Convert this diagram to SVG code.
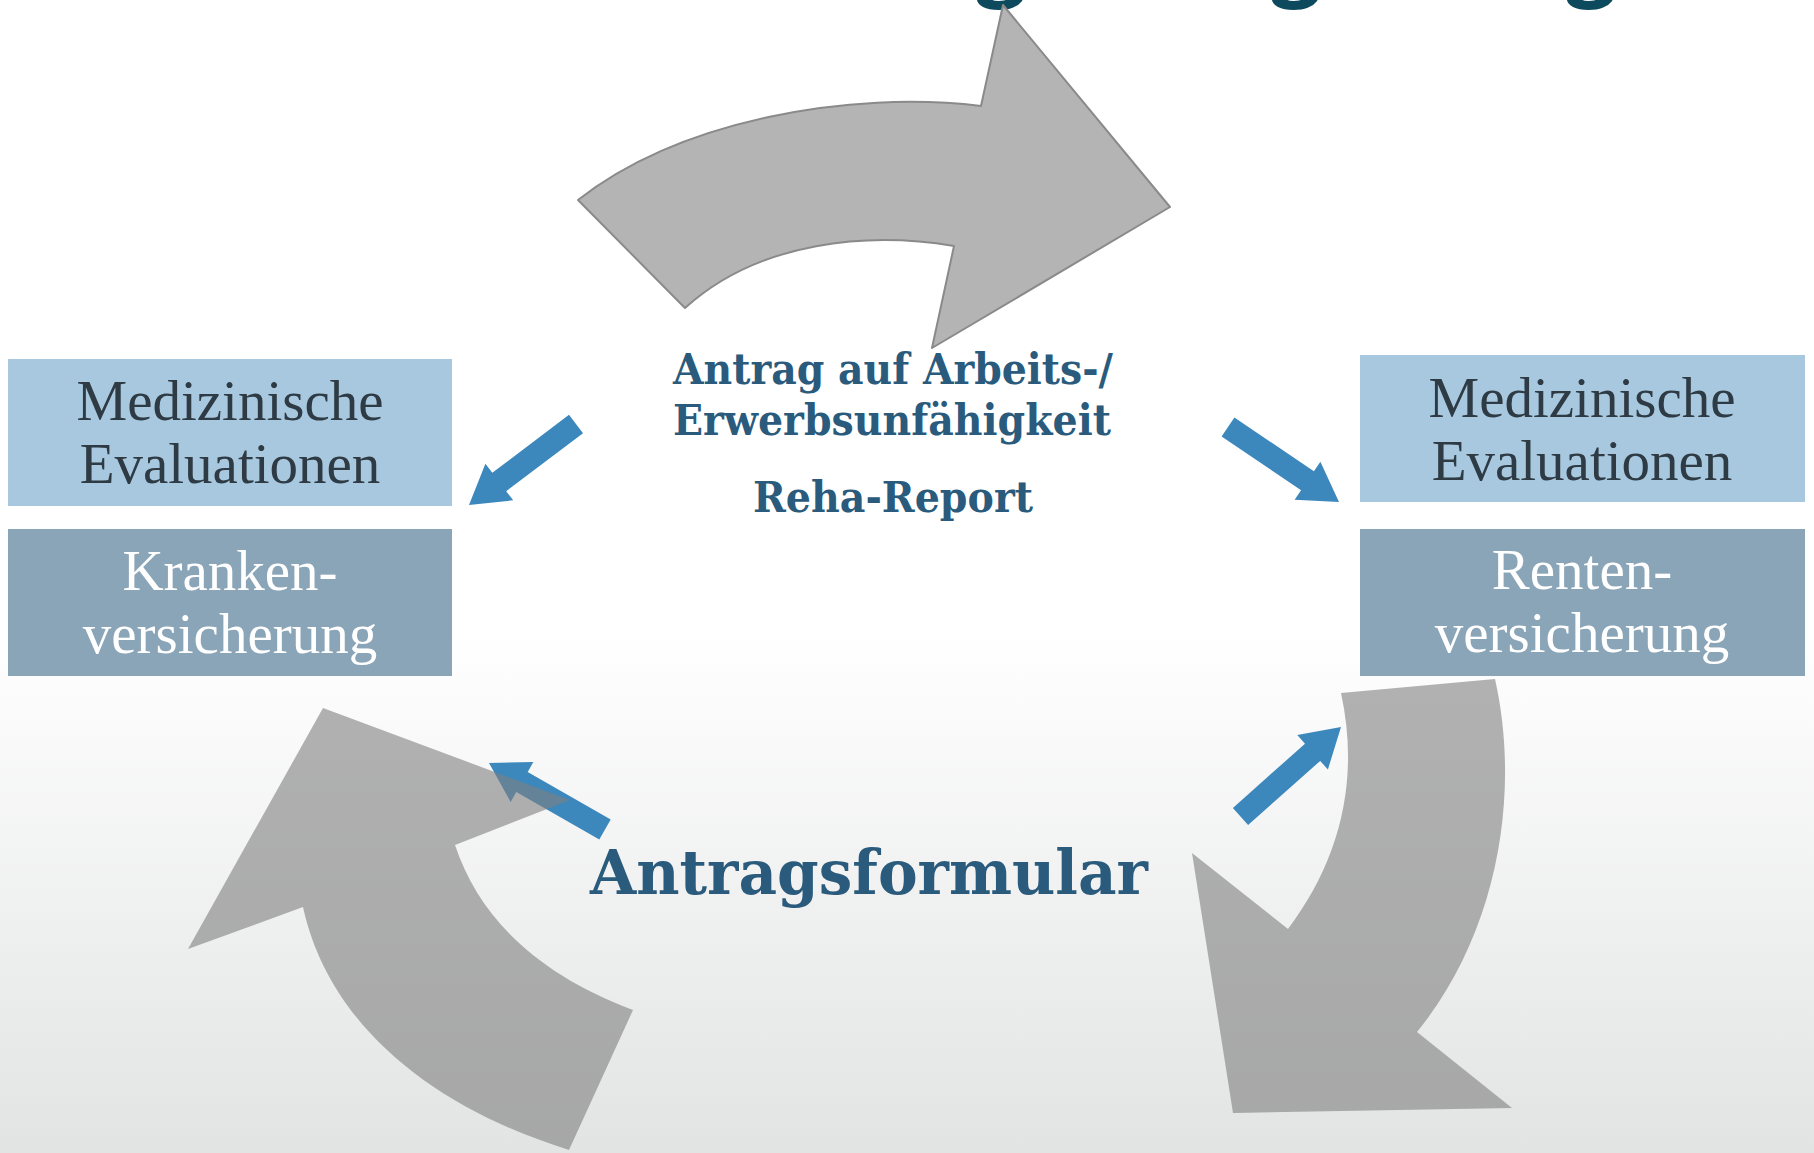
<svg xmlns="http://www.w3.org/2000/svg" width="1814" height="1153" viewBox="0 0 1814 1153">
  <defs>
    <linearGradient id="bg" x1="0" y1="0" x2="0" y2="1">
      <stop offset="0" stop-color="#ffffff"/>
      <stop offset="0.55" stop-color="#ffffff"/>
      <stop offset="1" stop-color="#e2e3e3"/>
    </linearGradient>
    <style>
      .box-light { fill: #a7c8df; }
      .box-dark { fill: #8aa5b8; }
      .t-dark { font-family: "Liberation Serif", "Times New Roman", serif; font-size: 57px; fill: #2e3b44; text-anchor: middle; }
      .t-white { font-family: "Liberation Serif", "Times New Roman", serif; font-size: 57px; fill: #ffffff; text-anchor: middle; }
      .t-center { font-family: "DejaVu Serif", "Liberation Serif", serif; font-weight: bold; fill: #2a5b7d; text-anchor: middle; }
      .t-title { font-family: "Liberation Serif", serif; font-weight: bold; font-size: 95px; fill: #0e4a5e; stroke: #0e4a5e; stroke-width: 4; text-anchor: middle; }
      .blue { fill: #3c88bd; }
      .grey-top { fill: #b4b4b4; stroke: #8a8a8a; stroke-width: 2; stroke-linejoin: round; }
      .grey-bot { fill: #7e7e7e; fill-opacity: 0.6; }
    </style>
  </defs>

  <rect x="0" y="0" width="1814" height="1153" fill="url(#bg)"/>

  <g id="title-fragment">
    <text class="t-title" x="1000" y="-12">g</text>
    <text class="t-title" x="1295" y="-12">g</text>
    <text class="t-title" x="1590" y="-12">g</text>
  </g>

  <g id="cycle-top">
    <path class="grey-top" d="M 578 200 C 680 120, 850 90, 981 106 L 1003 5 L 1170 207 L 932 348 L 954 246 C 870 232, 760 240, 685 308 Z"/>
  </g>

  <g id="connectors">
    <polygon class="blue" points="583,433.2 506.2,491.2 513.2,500.3 469,505 485.4,463.7 492.3,472.8 569,414.8"/>
    <polygon class="blue" points="1234.4,417.5 1313.9,471.2 1320.4,461.7 1339,502 1294.6,499.7 1301.1,490.2 1221.6,436.5"/>
    <polygon class="blue" points="1232.9,807.9 1305,743.7 1297.3,735.1 1341,727 1327.9,769.5 1320.2,760.9 1248.1,825.1"/>
    <polygon class="blue" points="599.3,839.5 516.3,791.9 510.6,801.9 489,763 533.4,761.9 527.7,771.9 610.7,819.5"/>
  </g>

  <g id="cycle-bottom-left">
    <path class="grey-bot" d="M 323 708 L 570 800 L 455 845 C 480 920, 540 975, 633 1010 L 569 1150 C 440 1110, 330 1030, 303 907 L 188 949 Z"/>
  </g>
  <g id="cycle-bottom-right">
    <path class="grey-bot" d="M 1341 693 L 1495 679 C 1520 790, 1500 930, 1417 1032 L 1512 1108 L 1233 1113 L 1192 853 L 1288 929 C 1340 860, 1360 780, 1341 693 Z"/>
  </g>

  <g id="node-med-left">
    <rect class="box-light" x="8" y="359" width="444" height="147"/>
    <text class="t-dark" x="230" y="420">Medizinische</text>
    <text class="t-dark" x="230" y="483">Evaluationen</text>
  </g>
  <g id="node-kranken">
    <rect class="box-dark" x="8" y="529" width="444" height="147"/>
    <text class="t-white" x="230" y="590">Kranken-</text>
    <text class="t-white" x="230" y="653">versicherung</text>
  </g>
  <g id="node-med-right">
    <rect class="box-light" x="1360" y="355" width="445" height="147"/>
    <text class="t-dark" x="1582" y="417">Medizinische</text>
    <text class="t-dark" x="1582" y="480">Evaluationen</text>
  </g>
  <g id="node-renten">
    <rect class="box-dark" x="1360" y="529" width="445" height="147"/>
    <text class="t-white" x="1582" y="589">Renten-</text>
    <text class="t-white" x="1582" y="652">versicherung</text>
  </g>

  <g id="node-antrag">
    <text class="t-center" x="893" y="384" font-size="42" textLength="440" lengthAdjust="spacingAndGlyphs">Antrag auf Arbeits-/</text>
    <text class="t-center" x="892" y="435" font-size="42" textLength="438" lengthAdjust="spacingAndGlyphs">Erwerbsunfähigkeit</text>
  </g>
  <g id="node-reha">
    <text class="t-center" x="893" y="512" font-size="42" textLength="280" lengthAdjust="spacingAndGlyphs">Reha-Report</text>
  </g>
  <g id="node-formular">
    <text class="t-center" x="869" y="894" font-size="62" textLength="558" lengthAdjust="spacingAndGlyphs">Antragsformular</text>
  </g>
</svg>
